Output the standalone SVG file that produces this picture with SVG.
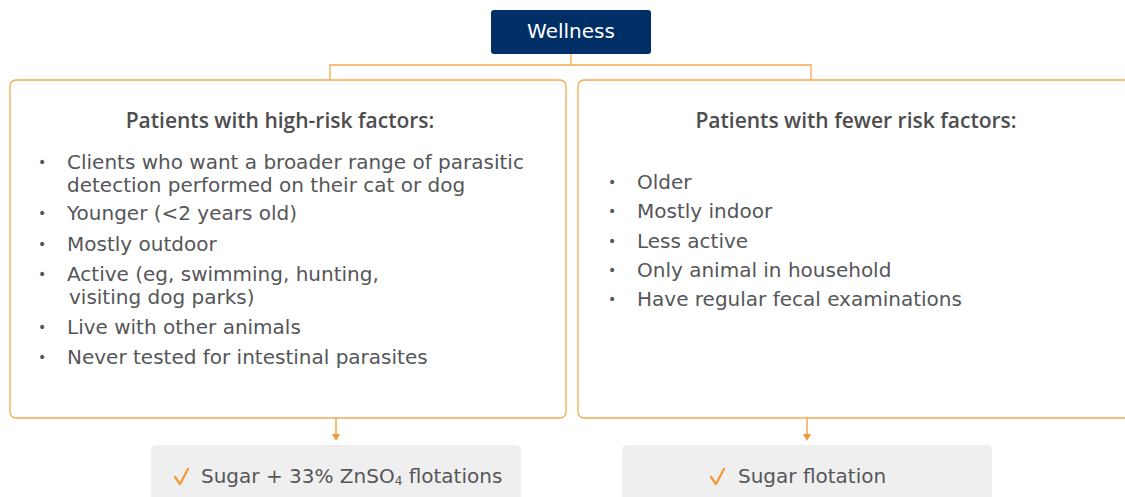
<svg xmlns="http://www.w3.org/2000/svg" width="1125" height="497" viewBox="0 0 1125 497">
<defs>
<style>
.t{font-family:"DejaVu Sans","Liberation Sans",sans-serif;fill:#555659;font-size:20px}
.b{font-family:"DejaVu Sans","Liberation Sans",sans-serif;fill:#555659;font-size:14px}
.h{font-family:"Open Sans","Liberation Sans",sans-serif;fill:#4d4d4f;font-size:21px;font-weight:600;text-anchor:middle}
.box{fill:#fff;stroke:#F7A94F;stroke-width:1.3}
.res{fill:#efefef}
.con{fill:none;stroke:#F7A94F;stroke-width:1.3}
.arr{fill:none;stroke:#F39A35;stroke-width:1.3}
.tip{fill:#F39A35}
.chk{fill:none;stroke:#F39A35;stroke-width:2.2;stroke-linecap:round;stroke-linejoin:round}
</style>
</defs>
<rect width="1125" height="497" fill="#fff"/>
<g id="connectors">
<path class="con" d="M571,54 V65 M330,80 V65 H811 V80"/>
<path class="arr" d="M336,418 V436"/>
<path class="tip" d="M332,434 L340,434 L336,441 Z"/>
<path class="arr" d="M807,418 V436"/>
<path class="tip" d="M803,434 L811,434 L807,441 Z"/>
</g>
<g id="wellness">
<rect x="491" y="10" width="160" height="44" rx="3" fill="#002F66"/>
<text x="571" y="38" text-anchor="middle" style="font-family:'DejaVu Sans','Liberation Sans',sans-serif;font-size:20px;fill:#fff">Wellness</text>
</g>
<g id="high-risk">
<rect class="box" x="10" y="80" width="556" height="338" rx="6"/>
<text class="h" x="280" y="128">Patients with high-risk factors:</text>
<text class="b" x="38" y="167">•</text><text class="t" x="67" y="169">Clients who want a broader range of parasitic<tspan x="67" dy="23">detection performed on their cat or dog</tspan></text>
<text class="b" x="38" y="218">•</text><text class="t" x="67" y="220">Younger (&lt;2 years old)</text>
<text class="b" x="38" y="249">•</text><text class="t" x="67" y="251">Mostly outdoor</text>
<text class="b" x="38" y="279">•</text><text class="t" x="67" y="281">Active (eg, swimming, hunting,<tspan x="69" dy="23">visiting dog parks)</tspan></text>
<text class="b" x="38" y="332">•</text><text class="t" x="67" y="334">Live with other animals</text>
<text class="b" x="38" y="362">•</text><text class="t" x="67" y="364">Never tested for intestinal parasites</text>
</g>
<g id="fewer-risk">
<rect class="box" x="578" y="80" width="560" height="338" rx="6"/>
<text class="h" x="856" y="128">Patients with fewer risk factors:</text>
<text class="b" x="608" y="187">•</text><text class="t" x="637" y="189">Older</text>
<text class="b" x="608" y="216">•</text><text class="t" x="637" y="218">Mostly indoor</text>
<text class="b" x="608" y="246">•</text><text class="t" x="637" y="248">Less active</text>
<text class="b" x="608" y="275">•</text><text class="t" x="637" y="277">Only animal in household</text>
<text class="b" x="608" y="304">•</text><text class="t" x="637" y="306">Have regular fecal examinations</text>
</g>
<g id="result-left">
<rect class="res" x="151" y="445" width="370" height="60" rx="5"/>
<path class="chk" d="M175,477 L180,484 L188,469"/>
<text class="t" x="201" y="483">Sugar + 33% ZnSO<tspan font-size="12" dy="2">4</tspan><tspan dy="-2"> flotations</tspan></text>
</g>
<g id="result-right">
<rect class="res" x="622" y="445" width="370" height="60" rx="5"/>
<path class="chk" d="M711,477 L716,484 L724,469"/>
<text class="t" x="738" y="483">Sugar flotation</text>
</g>
</svg>
